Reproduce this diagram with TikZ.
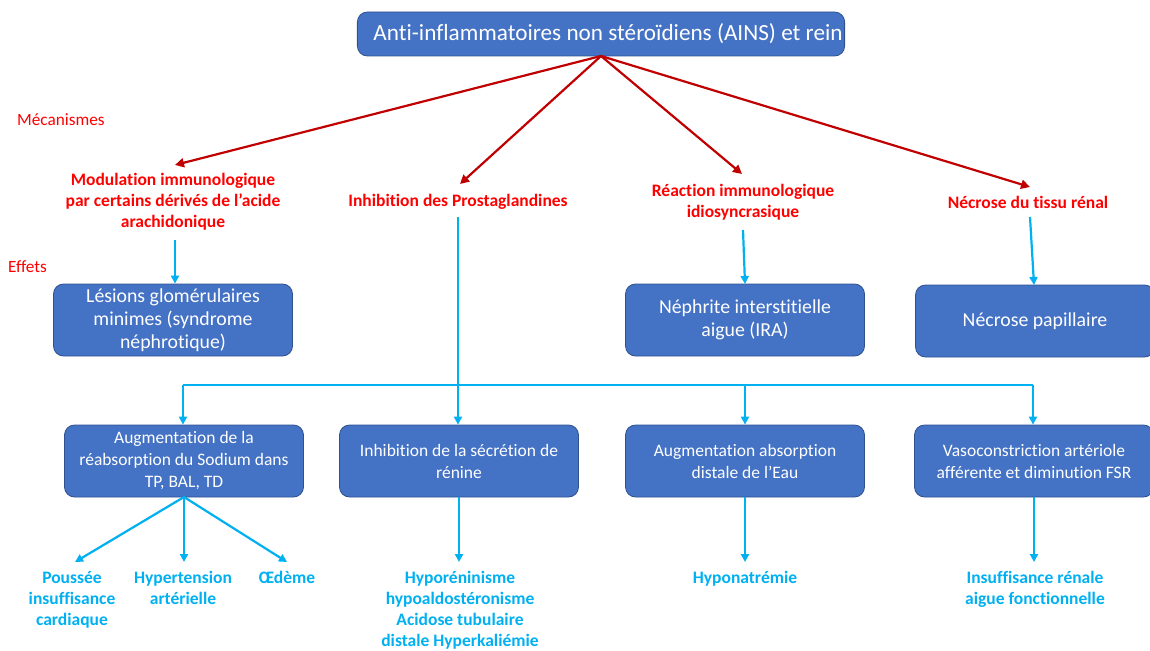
\documentclass[tikz,border=0pt]{standalone}
\usepackage{fontspec}
\setmainfont{Carlito}[Ligatures=NoCommon]
\usetikzlibrary{arrows.meta}
\definecolor{boxblue}{HTML}{4472C4}
\definecolor{boxedge}{HTML}{2F528F}
\definecolor{mred}{HTML}{FF0000}
\definecolor{darr}{HTML}{C00000}
\definecolor{cyanb}{HTML}{00B0F0}
\begin{document}
\begin{tikzpicture}[x=1pt,y=-1pt,
  bluebox/.style={draw=boxedge, line width=0.8pt, fill=boxblue, rounded corners=10pt,
    text=white, minimum width=239pt, minimum height=72pt, align=center, inner sep=2pt},
  boxA/.style={bluebox, font=\fontsize{19.8}{23}\selectfont},
  boxB/.style={bluebox, font=\fontsize{17.5}{22}\selectfont},
  mech/.style={text=mred, font=\fontsize{17.5}{21}\selectfont\bfseries, align=center, inner sep=0pt},
  eff/.style={text=cyanb, font=\fontsize{17.5}{21}\selectfont\bfseries, align=center, inner sep=0pt, anchor=north},
  sidelab/.style={text=mred, font=\fontsize{17.2}{20}\selectfont, anchor=west, inner sep=0pt},
  redarrow/.style={draw=darr, line width=2.2pt, -{Triangle[length=9pt,width=9pt]}},
  bluearrow/.style={draw=cyanb, line width=2.2pt, -{Triangle[length=8pt,width=8pt]}},
  blueline/.style={draw=cyanb, line width=2.2pt}
]
\useasboundingbox (0,0) rectangle (1150,650);

% top
\node[bluebox, minimum width=487pt, minimum height=44pt, font=\fontsize{23.2}{26}\selectfont] (top) at (601,34)
  {\hspace*{14pt}Anti-inflammatoires non stéroïdiens (AINS) et rein};

% side labels
\node[sidelab] (mecan) at (17,120) {Mécanismes};
\node[sidelab] (effets) at (8,267) {Effets};

% mechanisms
\node[mech] (m1) at (173,202) {Modulation immunologique\\par certains dérivés de l’acide\\arachidonique};
\node[mech] (m2) at (458,202) {Inhibition des Prostaglandines};
\node[mech] (m3) at (743,202) {Réaction immunologique\\idiosyncrasique};
\node[mech] (m4) at (1028,202) {Nécrose du tissu rénal};

\coordinate (t1) at (175,165);
\coordinate (t2) at (460,184);
\coordinate (t3) at (742,174);
\coordinate (t4) at (1030,187);
\coordinate (src) at (601,56);
\foreach \t in {t1,t2,t3,t4} \draw[redarrow] (src) -- (\t);

% first row boxes
\node[boxA] (b1) at (173,320) {Lésions glomérulaires\\minimes (syndrome\\néphrotique)};
\node[boxA] (b3) at (745,320) {Néphrite interstitielle\\aigue (IRA)};
\node[boxA] (b4) at (1035,321) {Nécrose papillaire};

\draw[bluearrow] (175,240) -- (b1.north -| 175,0);
\draw[bluearrow] (743,230) -- (745,284);
\draw[bluearrow] (1030,217) -- (1034,285);

% bus
\coordinate (bs) at (458,217);
\coordinate (bj) at (458,385);
\coordinate (bl) at (183,385);
\coordinate (br) at (1033,385);
\draw[blueline] (bs) -- (bj);
\draw[blueline] (bl) -- (br);

% second row boxes
\node[boxB] (c1) at (184,461) {Augmentation de la\\réabsorption du Sodium dans\\TP, BAL, TD};
\node[boxB] (c2) at (459,461) {Inhibition de la sécrétion de\\rénine};
\node[boxB] (c3) at (745,461) {Augmentation absorption\\distale de l’Eau};
\node[boxB] (c4) at (1034,461) {Vasoconstriction artériole\\afférente et diminution FSR};

\draw[bluearrow] (bl) -- (bl |- c1.north);
\draw[bluearrow] (bj) -- (bj |- c2.north);
\draw[bluearrow] (745,385) -- (c3.north);
\draw[bluearrow] (br) -- (br |- c4.north);

% effects
\node[eff] (e1) at (72,571) {Poussée\\insuffisance\\cardiaque};
\node[eff] (e2) at (183,571) {Hypertension\\artérielle};
\node[eff] (e3) at (287,571) {Œdème};
\node[eff] (e4) at (460,571) {Hyporéninisme\\hypoaldostéronisme\\Acidose tubulaire\\distale Hyperkaliémie};
\node[eff] (e5) at (745,571) {Hyponatrémie};
\node[eff] (e6) at (1035,571) {Insuffisance rénale\\aigue fonctionnelle};

\coordinate (c1b) at (184,497);
\draw[bluearrow] (c1b) -- (75,562);
\draw[bluearrow] (c1b) -- (184,562);
\draw[bluearrow] (c1b) -- (287,562);
\draw[bluearrow] (c2.south) -- (459,562);
\draw[bluearrow] (c3.south) -- (745,562);
\draw[bluearrow] (c4.south) -- (1034,562);
\end{tikzpicture}
\end{document}
